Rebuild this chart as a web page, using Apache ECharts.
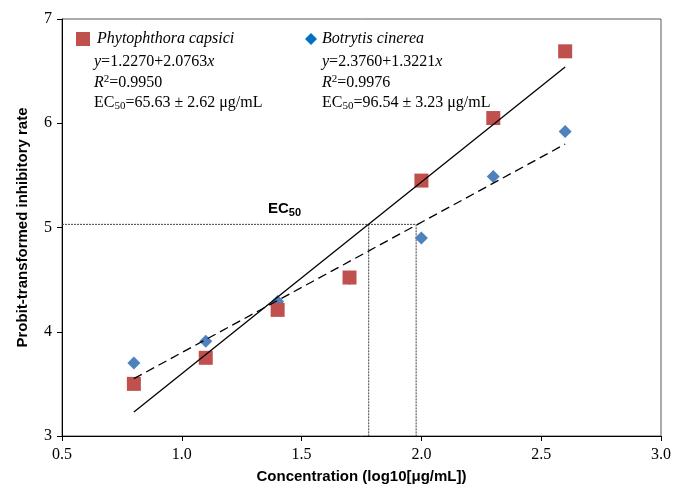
<!DOCTYPE html>
<html>
<head>
<meta charset="utf-8">
<script src="https://cdn.jsdelivr.net/npm/echarts@6/dist/echarts.min.js"></script>
<style>html,body{margin:0;padding:0;background:#fff;}#c{width:674px;height:489px;}</style>
</head>
<body>
<div id="c"></div>
<script>
// ---- data ----
const concX = [0.8, 1.1, 1.4, 1.7, 2.0, 2.3, 2.6];
const pcProbit = [3.50, 3.75, 4.21, 4.52, 5.45, 6.05, 6.69];
const bcProbit = [3.70, 3.91, 4.29, 4.51, 4.90, 5.49, 5.92];
const fitX = [0.8, 2.6];
const pcFitY = [3.23, 6.54];
const bcFitY = [3.55, 5.80];
const ec50Level = 5.03;
const ec50X = [1.78, 1.978];
const xTicks = [0.5, 1.0, 1.5, 2.0, 2.5, 3.0];
const yTicks = [3, 4, 5, 6, 7];
const pcName = 'Phytophthora capsici';
const bcName = 'Botrytis cinerea';
const pcText = ['{i|y}=1.2270+2.0763{i|x}', '{i|R}{sup|2}=0.9950', 'EC{sub|50}=65.63 ± 2.62 μg/mL'];
const bcText = ['{i|y}=2.3760+1.3221{i|x}', '{i|R}{sup|2}=0.9976', 'EC{sub|50}=96.54 ± 3.23 μg/mL'];

const serif = '"Liberation Serif", "Times New Roman", serif';
const sans = '"Liberation Sans", Arial, sans-serif';

const zip = (xs, ys) => xs.map((x, i) => [x, ys[i]]);

const richStyle = {
  i: { fontStyle: 'italic', fontSize: 16, fontFamily: serif, fill: '#000', lineHeight: 18 },
  sup: { fontSize: 11, fontFamily: serif, fill: '#000', lineHeight: 9, verticalAlign: 'top' },
  sub: { fontSize: 11, fontFamily: serif, fill: '#000', lineHeight: 8, verticalAlign: 'bottom' }
};

function textBlock(lines, x, y0, step) {
  return lines.map((t, k) => ({
    type: 'text', x: x, y: y0 + k * step, z: 100,
    style: { text: t, fontSize: 16, fontFamily: serif, fill: '#000', lineHeight: 18,
             verticalAlign: 'middle', rich: richStyle }
  }));
}

const chart = echarts.init(document.getElementById('c'), null, { renderer: 'canvas' });
chart.setOption({
  animation: false,
  backgroundColor: '#fff',
  grid: { left: 62, right: 12, top: 19, bottom: 51, show: true, borderColor: '#595959', borderWidth: 1 },
  legend: [
    { data: [{ name: pcName, icon: 'rect' }], left: 76, top: 31, padding: 0, itemWidth: 14, itemHeight: 14, itemGap: 0,
      textStyle: { fontFamily: serif, fontSize: 16, fontStyle: 'italic', color: '#000', padding: [0, 0, 0, 2] } },
    { data: [{ name: bcName, icon: 'diamond', itemStyle: { color: '#0070C0' } }], left: 305, top: 31, padding: 0, itemWidth: 12, itemHeight: 12, itemGap: 0,
      textStyle: { fontFamily: serif, fontSize: 16, fontStyle: 'italic', color: '#000' } }
  ],
  xAxis: {
    type: 'value', min: xTicks[0], max: xTicks[xTicks.length - 1], interval: 0.5,
    name: 'Concentration (log10[μg/mL])', nameLocation: 'middle', nameGap: 33,
    nameTextStyle: { fontFamily: sans, fontWeight: 'bold', fontSize: 15, color: '#000' },
    axisLine: { onZero: false, lineStyle: { color: '#000', width: 1 } },
    axisTick: { show: true, length: 5, lineStyle: { color: '#000' } },
    axisLabel: { fontFamily: serif, fontSize: 16, color: '#000', margin: 11, formatter: v => v.toFixed(1) },
    splitLine: { show: false }
  },
  yAxis: {
    type: 'value', min: yTicks[0], max: yTicks[yTicks.length - 1], interval: 1,
    name: 'Probit-transformed inhibitory rate', nameLocation: 'middle', nameGap: 32,
    nameTextStyle: { fontFamily: sans, fontWeight: 'bold', fontSize: 15, color: '#000' },
    axisLine: { show: true, onZero: false, lineStyle: { color: '#000', width: 1 } },
    axisTick: { show: true, length: 5, lineStyle: { color: '#000' } },
    axisLabel: { fontFamily: serif, fontSize: 16, color: '#000', margin: 10 },
    splitLine: { show: false }
  },
  graphic: [
    ...textBlock(pcText, 94, 62, 20.5),
    ...textBlock(bcText, 322, 62, 20.5),
    { type: 'text', x: 268, y: 209, z: 100,
      style: { text: 'EC{s|50}', fontFamily: sans, fontWeight: 'bold', fontSize: 15, fill: '#000',
               lineHeight: 18, verticalAlign: 'middle',
               rich: { s: { fontFamily: sans, fontWeight: 'bold', fontSize: 11, fill: '#000', lineHeight: 8, verticalAlign: 'bottom' } } } }
  ],
  series: [
    { name: bcName, type: 'scatter', symbol: 'diamond', symbolSize: 13, z: 2,
      itemStyle: { color: '#4F81BD', opacity: 1 }, data: zip(concX, bcProbit) },
    { name: pcName, type: 'scatter', symbol: 'rect', symbolSize: 14, z: 3,
      itemStyle: { color: '#C0504D', opacity: 1 }, data: zip(concX, pcProbit) },
    { name: 'pcFit', type: 'line', showSymbol: false, symbol: 'none', z: 4, silent: true,
      lineStyle: { color: '#000', width: 1.3 }, data: zip(fitX, pcFitY) },
    { name: 'bcFit', type: 'line', showSymbol: false, symbol: 'none', z: 4, silent: true,
      lineStyle: { color: '#000', width: 1.3, type: [9, 5] }, data: zip(fitX, bcFitY) },
    { name: 'ec50h', type: 'line', showSymbol: false, symbol: 'none', z: 1, silent: true,
      lineStyle: { color: '#404040', width: 1, type: [2, 1] }, data: [[xTicks[0], ec50Level], [ec50X[1], ec50Level]] },
    { name: 'ec50v1', type: 'line', showSymbol: false, symbol: 'none', z: 1, silent: true,
      lineStyle: { color: '#404040', width: 1, type: [2, 1] }, data: [[ec50X[0], ec50Level], [ec50X[0], yTicks[0]]] },
    { name: 'ec50v2', type: 'line', showSymbol: false, symbol: 'none', z: 1, silent: true,
      lineStyle: { color: '#404040', width: 1, type: [2, 1] }, data: [[ec50X[1], ec50Level], [ec50X[1], yTicks[0]]] }
  ]
});
</script>
</body>
</html>
